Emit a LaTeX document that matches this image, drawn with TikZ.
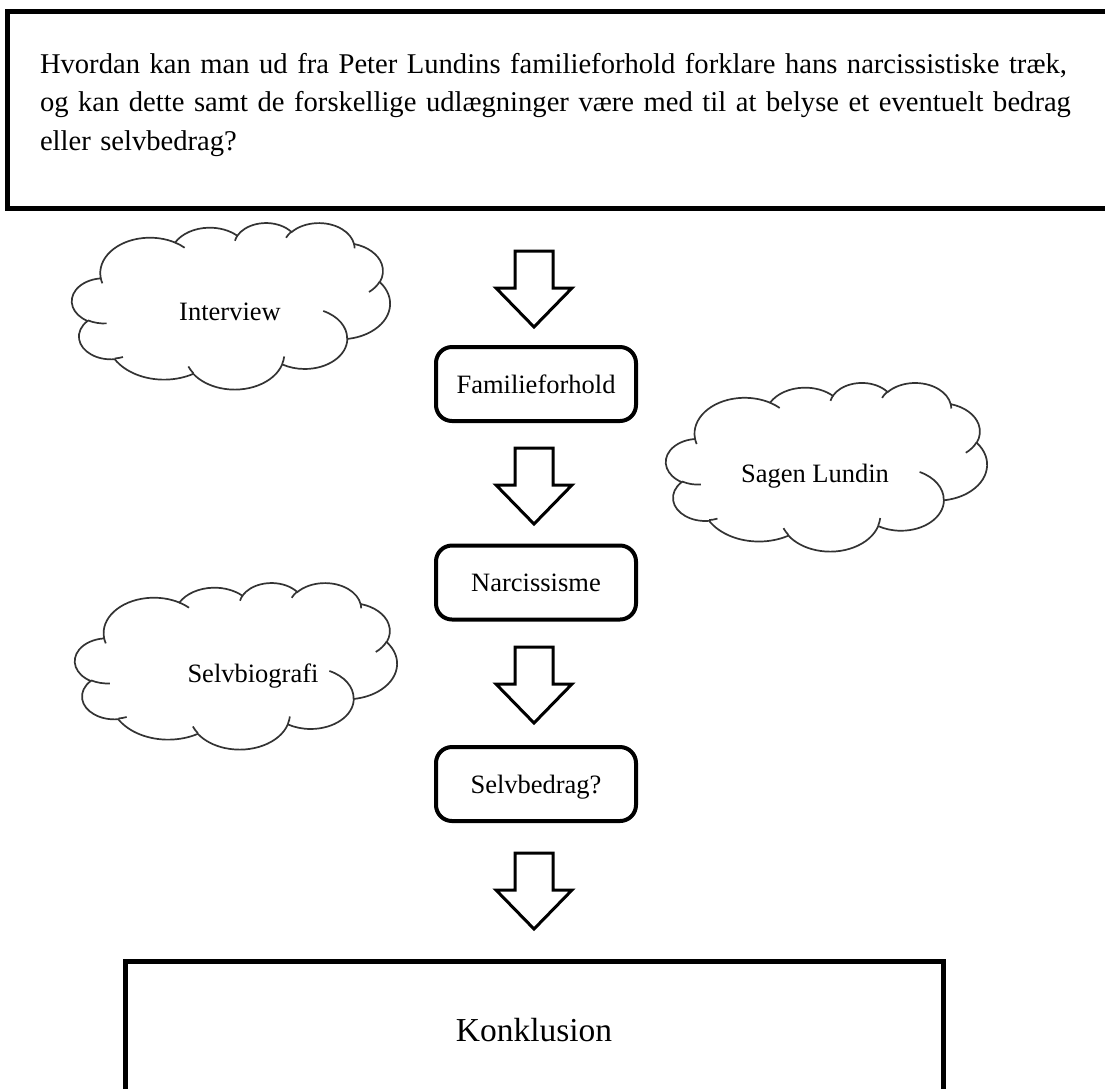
\documentclass[tikz,border=0pt]{standalone}
\usepackage{fontspec}
\setmainfont{Liberation Serif}
% OOXML-style elliptical arc (visual angles -> parametric angles)
\newcommand\ooconv[4]{%
  \pgfmathparse{atan2(#1*sin(#3),#2*cos(#3))}\xdef\ooA{\pgfmathresult}%
  \pgfmathparse{atan2(#1*sin(#3+#4),#2*cos(#3+#4))}\xdef\ooB{\pgfmathresult}%
  \pgfmathparse{\ooB<\ooA ? \ooB+360 : \ooB}\xdef\ooB{\pgfmathresult}%
}
\newcommand\oo[4]{\pgfextra{\ooconv{#1}{#2}{#3}{#4}} arc[start angle=\ooA, end angle=\ooB, x radius=#1/100, y radius=#2/100]}
\newcommand\cloudmain{(39.00,143.70)
  \oo{6753}{9190}{-190.4875}{123.7805}
  \oo{5333}{7267}{-144.1024}{89.9452}
  \oo{4365}{5945}{-145.8079}{99.7230}
  \oo{4857}{6595}{-130.9861}{117.2417}
  \oo{5333}{7273}{-78.7089}{109.0269}
  \oo{6775}{9220}{-46.2673}{130.2690}
  \oo{5785}{7867}{0.6250}{114.0333}
  \oo{6752}{9215}{22.4516}{115.1726}
  \oo{7720}{10543}{66.2426}{75.7110}
  \oo{4360}{5918}{-274.9421}{146.7356}
  \oo{4345}{5945}{-246.8285}{152.5189} -- cycle}
\newcommand\cloudinner{(46.93,261.77) \oo{4345}{5945}{86.7420}{26.4295}
  (69.28,348.99) \oo{4360}{5918}{73.6105}{11.4475}
  (164.78,390.90) \oo{6752}{9215}{137.6242}{14.0811}
  (288.27,347.51) \oo{6752}{9215}{6.4533}{15.9984}
  (341.29,229.54) \oo{5785}{7867}{-70.2924}{70.9174}
  (417.98,153.54) \oo{5333}{7273}{30.3180}{27.7515}
  (383.24,54.26) \oo{4857}{6595}{-13.7443}{14.8589}
  (290.78,39.52) \oo{4857}{6595}{-149.1815}{18.1954}
  (221.41,47.20) \oo{4365}{5945}{-163.4943}{17.6864}
  (140.00,51.92) \oo{6753}{9190}{-66.7070}{12.3194}
  (41.27,157.89) \oo{6753}{9190}{157.6544}{11.8582}}
\newcommand\cloudat[4]{%
  \begin{scope}[shift={(#1,#2)}, x=#3pt/432, y=-#4pt/432]
    \path[cloudline] \cloudmain;
    \path[cloudmark] \cloudinner;
  \end{scope}}
\tikzset{
  thickbox/.style={draw, line width=5pt, rectangle, inner sep=0pt},
  rbox/.style={draw, line width=4pt, rounded corners=16pt, minimum width=200pt,
    minimum height=74pt, inner sep=0pt, text height=18pt, text depth=0pt,
    font=\fontsize{26.5}{30}\selectfont},
  blockarrow/.style={draw, line width=3pt, fill=white, line join=miter},
  cloudline/.style={draw=black!80, line width=1.7pt, fill=white},
  cloudmark/.style={draw=black!80, line width=1.7pt},
  cloudtext/.style={font=\fontsize{26.5}{30}\selectfont, inner sep=0pt, anchor=base},
  downarr/.pic={\path[blockarrow] (-19,0) -- (19,0) -- (19,37) -- (38,37) -- (0,76)
     -- (-38,37) -- (-19,37) -- cycle;}
}
\begin{document}
\begin{tikzpicture}[x=1pt,y=-1pt]
\useasboundingbox (0,0) rectangle (1105,1088);
\clip (0,0) rectangle (1105,1088);
\fill[white] (0,0) rectangle (1105,1088);
% question box
\node[thickbox, minimum width=1105pt, minimum height=197pt, text width=1040pt,
      inner xsep=32.5pt, align=left, font=\fontsize{28.6}{38.5}\selectfont]
  (q) at (560,109.75)
  {\rule{0pt}{20pt}\mbox{Hvordan kan man ud fra Peter Lundins familieforhold forklare hans narcissistiske træk,}\\
   \mbox{og kan dette samt de forskellige udlægninger være med til at belyse et eventuelt bedrag}\\
   \mbox{eller selvbedrag?}\rule[-16pt]{0pt}{0pt}};
% clouds
\cloudat{72}{222.5}{318}{166.5}
\node[cloudtext] (ci) at (230,320) {Interview};
\cloudat{666}{382.4}{321}{168.6}
\node[cloudtext] (cs) at (815,482) {Sagen Lundin};
\cloudat{75}{582.5}{322}{166.5}
\node[cloudtext] (cb) at (253,682) {Selvbiografi};
% flow
\pic (a1) at (534,251) {downarr};
\node[rbox] (fam) at (536,384) {Familieforhold};
\pic (a2) at (534,448) {downarr};
\node[rbox] (nar) at (536,582.5) {Narcissisme};
\pic (a3) at (534,647) {downarr};
\node[rbox] (sel) at (536,784) {Selvbedrag?};
\pic (a4) at (534,853) {downarr};
\node[thickbox, minimum width=818pt, minimum height=139pt, text height=22pt, text depth=0pt,
      font=\fontsize{33.5}{38}\selectfont] (k) at (534,1030.5) {Konklusion};
\end{tikzpicture}
\end{document}
